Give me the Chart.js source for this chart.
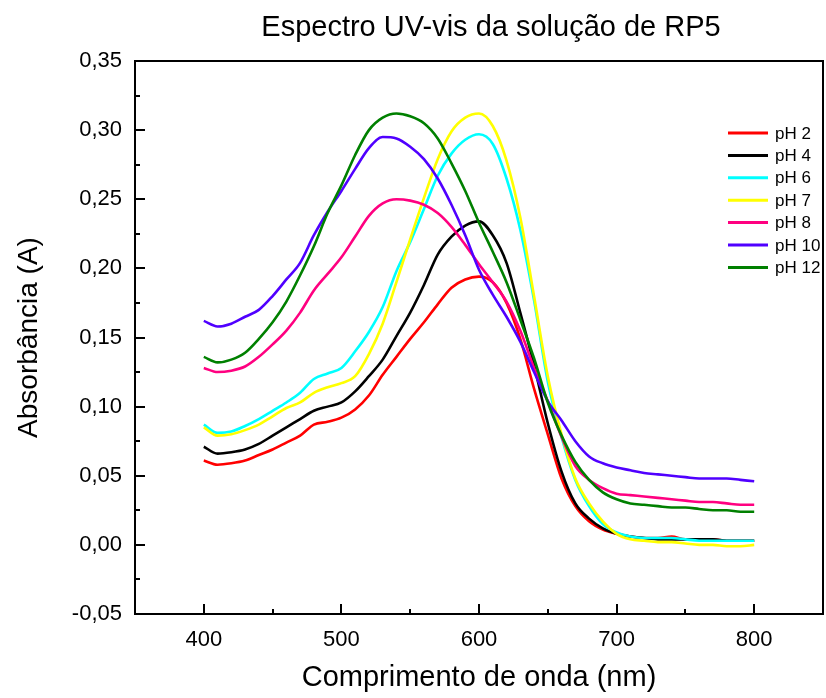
<!DOCTYPE html>
<html>
<head>
<meta charset="utf-8">
<title>Espectro UV-vis da solução de RP5</title>
<script src="https://cdn.jsdelivr.net/npm/chart.js@4.4.1/dist/chart.umd.min.js"></script>
<style>
  html, body { margin: 0; padding: 0; background: #fff; }
  #wrap { width: 826px; height: 698px; }
</style>
</head>
<body>
<div id="wrap"><canvas id="spectrum" width="826" height="698"></canvas></div>
<script>
const chartTitle = "Espectro UV-vis da solução de RP5";
const xTitle = "Comprimento de onda (nm)";
const yTitle = "Absorbância (A)";

const wavelengths = [400, 410, 420, 430, 440, 450, 460, 470, 480, 490,
  500, 510, 520, 530, 540, 550, 560, 570, 580, 590,
  600, 610, 620, 630, 640, 650, 660, 670, 680, 690,
  700, 710, 720, 730, 740, 750, 760, 770, 780, 790, 800];

const seriesLabels = ["pH 2", "pH 4", "pH 6", "pH 7", "pH 8", "pH 10", "pH 12"];
const seriesColors = ["#ff0000", "#000000", "#00ffff", "#ffff00", "#ff0080", "#5000ff", "#008000"];

const ph2 = [0.061, 0.058, 0.059, 0.061, 0.065, 0.069, 0.074, 0.079, 0.087, 0.089,
  0.092, 0.098, 0.108, 0.123, 0.136, 0.149, 0.161, 0.174, 0.186, 0.192,
  0.194, 0.190, 0.175, 0.149, 0.113, 0.080, 0.048, 0.028, 0.017, 0.011,
  0.008, 0.006, 0.005, 0.005, 0.006, 0.004, 0.004, 0.004, 0.003, 0.003, 0.003];
const ph4 = [0.071, 0.066, 0.067, 0.069, 0.073, 0.079, 0.085, 0.091, 0.097, 0.100,
  0.103, 0.111, 0.122, 0.134, 0.151, 0.168, 0.188, 0.210, 0.223, 0.231,
  0.234, 0.224, 0.204, 0.168, 0.130, 0.088, 0.053, 0.030, 0.019, 0.012,
  0.008, 0.006, 0.005, 0.004, 0.004, 0.004, 0.004, 0.004, 0.003, 0.003, 0.003];
const ph6 = [0.087, 0.081, 0.082, 0.086, 0.091, 0.097, 0.103, 0.110, 0.120, 0.124,
  0.128, 0.140, 0.154, 0.172, 0.198, 0.219, 0.243, 0.267, 0.283, 0.293,
  0.297, 0.290, 0.265, 0.228, 0.177, 0.118, 0.078, 0.047, 0.028, 0.015,
  0.009, 0.006, 0.005, 0.005, 0.005, 0.004, 0.003, 0.003, 0.003, 0.003, 0.003];
const ph7 = [0.085, 0.079, 0.080, 0.083, 0.087, 0.093, 0.099, 0.103, 0.110, 0.114,
  0.117, 0.122, 0.138, 0.160, 0.190, 0.221, 0.251, 0.279, 0.299, 0.309,
  0.312, 0.303, 0.278, 0.237, 0.180, 0.122, 0.080, 0.048, 0.030, 0.017,
  0.008, 0.004, 0.003, 0.002, 0.002, 0.001, 0.000, 0.000, -0.001, -0.001, 0.000];
const ph8 = [0.128, 0.125, 0.126, 0.129, 0.136, 0.145, 0.155, 0.168, 0.184, 0.196,
  0.208, 0.223, 0.238, 0.247, 0.250, 0.249, 0.246, 0.240, 0.230, 0.217,
  0.203, 0.190, 0.176, 0.155, 0.128, 0.104, 0.078, 0.057, 0.047, 0.041,
  0.037, 0.036, 0.035, 0.034, 0.033, 0.032, 0.031, 0.031, 0.030, 0.029, 0.029];
const ph10 = [0.162, 0.158, 0.160, 0.165, 0.170, 0.180, 0.192, 0.204, 0.224, 0.241,
  0.256, 0.272, 0.287, 0.295, 0.294, 0.288, 0.279, 0.265, 0.246, 0.224,
  0.199, 0.181, 0.165, 0.147, 0.125, 0.104, 0.090, 0.075, 0.064, 0.059,
  0.056, 0.054, 0.052, 0.051, 0.050, 0.049, 0.048, 0.048, 0.048, 0.047, 0.046];
const ph12 = [0.136, 0.132, 0.134, 0.139, 0.149, 0.161, 0.176, 0.195, 0.216, 0.240,
  0.260, 0.282, 0.300, 0.309, 0.312, 0.310, 0.305, 0.294, 0.276, 0.256,
  0.233, 0.212, 0.190, 0.163, 0.135, 0.103, 0.079, 0.060, 0.047, 0.038,
  0.033, 0.030, 0.029, 0.028, 0.027, 0.027, 0.026, 0.025, 0.025, 0.024, 0.024];

const seriesValues = [ph2, ph4, ph6, ph7, ph8, ph10, ph12];

const fontFamily = "'Liberation Sans', Arial, sans-serif";

function formatAbs(value) {
  const v = Math.abs(value) < 1e-9 ? 0 : value;
  return v.toFixed(2).replace(".", ",");
}

// frame, inward ticks, title and legend (Origin style)
const originStyle = {
  id: "originStyle",
  afterDraw(chart) {
    const { ctx, chartArea: a, scales: { x, y } } = chart;
    ctx.save();
    ctx.strokeStyle = "#000";
    ctx.lineWidth = 2;
    ctx.strokeRect(a.left, a.top, a.right - a.left, a.bottom - a.top);

    ctx.beginPath();
    y.ticks.forEach((t) => {
      if (t.value <= y.min || t.value >= y.max) return;
      const py = Math.round(y.getPixelForValue(t.value));
      const len = Math.round(t.value * 1000) % 50 === 0 ? 10 : 5;
      ctx.moveTo(a.left, py);
      ctx.lineTo(a.left + len, py);
    });
    x.ticks.forEach((t) => {
      if (t.value <= x.min || t.value >= x.max) return;
      const px = Math.round(x.getPixelForValue(t.value));
      const len = t.value % 100 === 0 ? 10 : 5;
      ctx.moveTo(px, a.bottom);
      ctx.lineTo(px, a.bottom - len);
    });
    ctx.stroke();

    ctx.fillStyle = "#000";
    ctx.textAlign = "center";
    ctx.textBaseline = "middle";
    ctx.font = "29px " + fontFamily;
    ctx.fillText(chartTitle, 491, 28);

    ctx.font = "17px " + fontFamily;
    ctx.textAlign = "left";
    ctx.lineWidth = 3;
    chart.data.datasets.forEach((ds, i) => {
      const ly = 133 + i * 22.4;
      ctx.strokeStyle = ds.borderColor;
      ctx.beginPath();
      ctx.moveTo(728, ly);
      ctx.lineTo(768, ly);
      ctx.stroke();
      ctx.fillText(ds.label, 775, ly + 1);
    });
    ctx.restore();
  }
};

const datasets = seriesLabels.map((label, i) => ({
  label: label,
  data: wavelengths.map((w, j) => ({ x: w, y: seriesValues[i][j] })),
  borderColor: seriesColors[i],
  backgroundColor: seriesColors[i],
  borderWidth: 2.6,
  pointRadius: 0,
  fill: false,
  cubicInterpolationMode: "monotone",
  order: seriesLabels.length - i
}));

new Chart(document.querySelector("#spectrum"), {
  type: "line",
  data: { datasets: datasets },
  plugins: [originStyle],
  options: {
    responsive: false,
    animation: false,
    devicePixelRatio: 1,
    layout: { padding: { top: 61, right: 3, left: 0, bottom: 0 } },
    plugins: {
      legend: { display: false },
      tooltip: { enabled: false },
      title: { display: false }
    },
    scales: {
      x: {
        type: "linear",
        min: 350,
        max: 850,
        grid: { display: false, drawTicks: false },
        border: { display: false },
        afterFit: (scale) => {
          scale.height = 84;
          scale.paddingLeft = 0;
          scale.paddingRight = 0;
        },
        ticks: {
          stepSize: 50,
          padding: 13,
          color: "#000",
          maxRotation: 0,
          autoSkip: false,
          font: { family: fontFamily, size: 22 },
          callback: (v) => (v % 100 === 0 && v >= 400 && v <= 800 ? String(v) : "")
        },
        title: {
          display: true,
          text: xTitle,
          color: "#000",
          font: { family: fontFamily, size: 29 },
          padding: { top: 0, bottom: 3 }
        }
      },
      y: {
        min: -0.05,
        max: 0.35,
        grid: { display: false, drawTicks: false },
        border: { display: false },
        afterFit: (scale) => {
          scale.width = 135;
          scale.paddingTop = 0;
          scale.paddingBottom = 0;
        },
        ticks: {
          stepSize: 0.025,
          padding: 13,
          color: "#000",
          autoSkip: false,
          font: { family: fontFamily, size: 22 },
          callback: (v) => (Math.round(v * 1000) % 50 === 0 ? formatAbs(v) : "")
        },
        title: {
          display: true,
          text: yTitle,
          color: "#000",
          font: { family: fontFamily, size: 28 },
          padding: { top: 12, bottom: 0 }
        }
      }
    }
  }
});
</script>
</body>
</html>
